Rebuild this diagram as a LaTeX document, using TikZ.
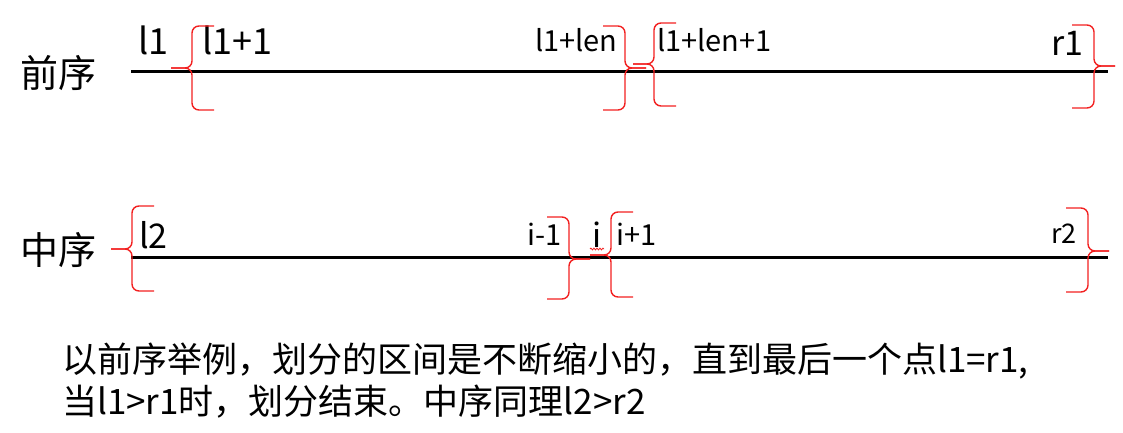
\documentclass[tikz,border=0pt]{standalone}
\usepackage{fontspec}
\setmainfont{Noto Sans CJK SC}
\usetikzlibrary{positioning,decorations.pathmorphing}
\definecolor{bracered}{HTML}{F22020}
\tikzset{
  axis/.style={line width=3pt,black},
  rbrace/.style={line width=1.4pt,draw=bracered,rounded corners=7pt},
  title/.style={anchor=west,inner sep=0,font=\fontsize{38}{42}\selectfont},
  lab/.style={anchor=base west,inner sep=0,font=\fontsize{36}{40}\selectfont},
  sublab/.style={anchor=base west,inner sep=0,font=\fontsize{29}{32}\selectfont},
  note/.style={anchor=base west,inner sep=0,font=\fontsize{35}{40}\selectfont},
}

\begin{document}
\begin{tikzpicture}[x=1pt,y=-1pt]
  \useasboundingbox (0,0) rectangle (1123,433);
  % the two sequences
  \coordinate (pre-a) at (131,72);  \coordinate (pre-b) at (1108,72);
  \coordinate (in-a) at (131,257);  \coordinate (in-b) at (1108,257);
  \draw[axis] (pre-a) -- (pre-b);
  \draw[axis] (in-a) -- (in-b);
  \node[title] (pre) at (20,73) {前序};
  \node[title] (in) at (20,250) {中序};
  % labels of the preorder ranges
  \node[lab] (l1) at (138,55) {l1};
  \node[lab] (l1n) at (202,55) {l1+1};
  \node[sublab] (l1len) at (535,52) {l1+len};
  \node[sublab] (l1len1) at (657,52) {l1+len+1};
  \node[lab,font=\fontsize{34}{38}\selectfont] (r1) at (1051,56) {r1};
  % labels of the inorder ranges
  \node[lab,font=\fontsize{34}{38}\selectfont] (l2) at (139,248) {l2};
  \node[sublab] (im1) at (527,245) {i-1};
  \node[lab,font=\fontsize{33}{36}\selectfont] (i) at (592,247) {i};
  \node[sublab] (ip1) at (616,245) {i+1};
  \node[sublab,font=\fontsize{27}{30}\selectfont] (r2) at (1051,243) {r2};
  \draw[bracered,line width=0.8pt,decorate,decoration={snake,segment length=3pt,amplitude=0.9pt}]
    (590,249) -- (604,249);
  % red braces: spine x / top / bottom / middle / side of the tip
  \foreach \s/\a/\b/\m/\d in {192/26/110/68/-1, 625/26/110/68/1, 654/23/106/64/-1, 1094/25/108/66/1,
                              132/206/291/249/-1, 569/217/299/259/1, 611/212/297/255/-1, 1088/208/292/251/1} {
    \draw[rbrace] (\s-\d*22,\a) -- (\s,\a) -- (\s,\m) -- (\s+\d*21,\m);
    \draw[rbrace] (\s+\d*21,\m) -- (\s,\m) -- (\s,\b) -- (\s-\d*22,\b);
  }
  % the note
  \node[note] (note1) at (62,372) {以前序举例，划分的区间是不断缩小的，直到最后一个点l1=r1,};
  \node[note] (note2) at (62,414) {当l1>r1时，划分结束。中序同理l2>r2};
\end{tikzpicture}
\end{document}
